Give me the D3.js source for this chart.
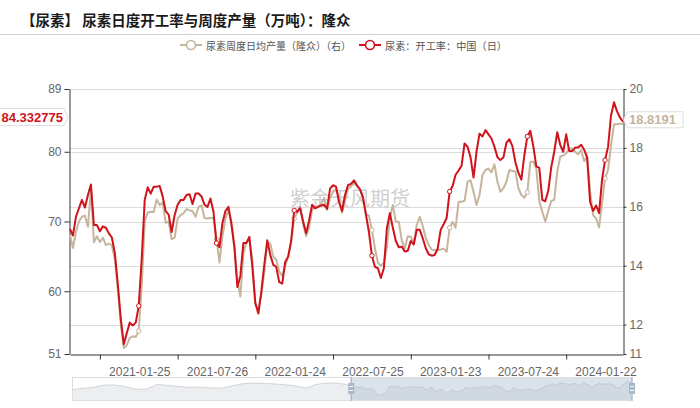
<!DOCTYPE html>
<html lang="zh">
<head>
<meta charset="UTF-8">
<title>尿素日度开工率与周度产量</title>
<script src="https://cdnjs.cloudflare.com/ajax/libs/d3/7.8.5/d3.min.js"></script>
<style>
  body { margin: 0; background: #fff; }
  svg { display: block; font-family: "Noto Sans CJK SC", "Liberation Sans", sans-serif; }
</style>
</head>
<body>
<div id="wrapper"></div>
<script>
// ---- data ----
const titleText = "【尿素】 尿素日度开工率与周度产量（万吨）：隆众"
const seriesNames = ["尿素周度日均产量（隆众）（右）", "尿素：开工率：中国（日）"]
const watermarkText = "紫金天风期货"

// weekly categories, first one and count
const firstWeek = "2020-08-17"
const weekCount = 186

// 开工率 (left axis, %)
const rateValues = [
  68.9, 68.0, 70.7, 71.9, 73.1, 72.0, 73.8, 75.3, 69.5, 69.5,
  68.6, 69.3, 69.1, 68.3, 67.7, 65.5, 61.0, 56.0, 52.4, 54.0,
  55.5, 55.1, 55.5, 57.9, 64.7, 73.1, 74.9, 74.0, 75.0, 75.0,
  75.1, 73.6, 71.5, 71.0, 68.5, 70.9, 72.4, 73.1, 73.1, 73.8,
  73.9, 72.5, 74.0, 74.0, 73.6, 72.4, 72.1, 73.3, 71.4, 66.9,
  66.3, 69.8, 71.5, 72.1, 69.6, 66.3, 60.6, 62.2, 66.9, 66.9,
  67.8, 63.5, 58.3, 56.8, 59.9, 63.8, 67.3, 65.2, 63.8, 63.5,
  61.3, 61.1, 64.2, 65.0, 67.3, 71.6, 71.4, 71.9, 70.0, 68.3,
  70.2, 72.4, 71.9, 72.1, 72.3, 72.4, 71.8, 74.7, 75.2, 75.0,
  72.8, 71.5, 73.8, 75.2, 75.4, 75.9, 75.2, 74.6, 73.5, 71.0,
  68.5, 65.1, 63.5, 63.3, 61.9, 63.3, 69.0, 71.2, 69.1, 67.2,
  66.3, 66.4, 65.7, 65.8, 67.2, 66.7, 68.8, 68.8, 67.6, 66.2,
  65.3, 65.1, 65.2, 66.1, 68.8, 69.6, 70.5, 74.3, 75.1, 76.7,
  77.3, 78.0, 81.2, 80.7, 79.2, 76.3, 80.0, 82.6, 82.2, 83.1,
  82.5, 81.9, 80.7, 79.2, 78.8, 79.2, 81.3, 81.8, 80.8, 78.5,
  77.0, 76.0, 79.5, 82.2, 83.0, 80.8, 77.9, 77.7, 73.1, 72.9,
  74.4, 77.8, 80.0, 82.8, 81.0, 80.0, 82.5, 80.1, 80.1, 80.6,
  80.6, 81.0, 80.3, 79.2, 72.8, 71.5, 72.3, 71.2, 76.0, 78.8,
  80.7, 85.2, 87.1, 85.8, 84.9, 84.332775
]

// 周度日均产量 (right axis, 万吨)
const outputValues = [
  15.04, 14.6, 15.15, 15.5, 15.66, 15.7, 15.32, 16.6, 14.8, 15.0,
  14.8, 14.95, 14.7, 14.75, 14.7, 14.2, 13.2, 12.0, 11.2, 11.3,
  11.55, 11.6, 11.58, 11.78, 13.3, 15.5, 15.8, 15.83, 15.82, 16.25,
  16.05, 16.15, 15.45, 15.5, 14.9, 14.95, 15.6, 15.72, 15.78, 15.92,
  15.88, 15.85, 15.66, 16.0, 16.05, 15.62, 15.6, 15.62, 15.62, 14.9,
  14.1, 15.0, 15.6, 15.9, 15.5, 14.7, 13.5, 12.95, 14.4, 14.8,
  14.9, 14.2, 12.7, 12.5, 13.0, 13.8, 14.8, 14.75, 14.3, 14.2,
  13.8, 13.65, 14.0, 14.3, 14.8, 15.6, 15.8, 16.0, 15.4, 15.0,
  15.3, 15.9, 16.0, 16.0, 16.1, 16.3, 15.9, 16.3, 16.5, 16.6,
  16.3, 15.8, 16.2, 16.6, 16.7, 16.8, 16.7, 16.6, 16.3, 15.75,
  15.7, 15.21, 14.6, 14.1, 14.0, 14.1, 14.6, 15.6, 16.06, 15.5,
  15.49, 14.85, 14.6, 15.0, 14.98, 14.76, 15.38, 15.66, 15.35, 14.95,
  14.7, 14.55, 14.52, 14.53, 14.55, 14.58, 14.47, 15.29, 15.49, 15.29,
  16.17, 16.17, 16.2, 16.85, 16.9, 16.5, 16.06, 16.4, 17.08, 17.25,
  17.3, 17.17, 17.44, 16.85, 16.51, 16.63, 16.85, 17.25, 17.21, 17.21,
  16.63, 16.4, 16.31, 16.49, 17.53, 17.53, 17.3, 16.2, 15.83, 15.5,
  15.86, 16.2, 16.23, 17.19, 17.7, 17.74, 17.81, 17.98, 17.98, 17.87,
  17.78, 17.93, 17.55, 17.7, 16.5, 15.72, 15.6, 15.3, 16.12, 16.97,
  17.25, 18.1, 18.8, 18.8, 18.82, 18.8191
]

// zoom slider shadow before the visible window (one value every 7 weeks)
const shadowStart = "2017-02-06"
const shadowEarly = [
  66.8, 70.4, 72.5, 78.0, 78.5, 74.5, 68.0, 68.5, 79.5, 77.5,
  75.0, 72.5, 73.5, 71.5, 70.5, 76.0, 81.0, 83.0, 82.0, 81.0,
  79.0, 76.5, 71.0, 80.0, 83.0, 83.0, 78.5
]

const xLabels = ["2021-01-25", "2021-07-26", "2022-01-24", "2022-07-25", "2023-01-23", "2023-07-24", "2024-01-22"]
const leftTicks = [51, 60, 70, 80, 89]
const rightTicks = [11, 12, 14, 16, 18, 20]

// ---- dimensions ----
const width = 700
const height = 408
const plot = { left: 70, right: 623, top: 89, bottom: 354 }
const slider = { left: 72, right: 632, top: 377, bottom: 400 }

const redColor = "#d0121b"
const tanColor = "#c6b59d"
const gridColor = "#dcdcdc"
const axisColor = "#333"

const fmt = d3.utcFormat("%Y-%m-%d")
const parse = d3.utcParse("%Y-%m-%d")
const categories = d3.range(weekCount).map(i => fmt(d3.utcDay.offset(parse(firstWeek), 7 * i)))

const svg = d3.select("#wrapper").append("svg")
  .attr("width", width)
  .attr("height", height)

// ---- scales ----
const xScale = d3.scalePoint().domain(categories).range([plot.left, plot.right])
const yLeft = d3.scaleLinear().domain([51, 89]).range([plot.bottom, plot.top])
const yRight = d3.scaleLinear().domain([11, 20]).range([plot.bottom, plot.top])

// ---- title ----
svg.append("text")
  .attr("x", 21).attr("y", 19)
  .attr("dominant-baseline", "central")
  .attr("font-size", 14.5).attr("font-weight", "bold")
  .attr("fill", "#1a1a1a")
  .text(titleText)
svg.append("line")
  .attr("x1", 0).attr("x2", width).attr("y1", 34.5).attr("y2", 34.5)
  .attr("stroke", "#cfcfcf")

// ---- legend ----
const legendItems = [
  { name: seriesNames[0], color: tanColor, x: 180, len: 145 },
  { name: seriesNames[1], color: redColor, x: 359, len: 122 }
]
const legend = svg.append("g")
legendItems.forEach(function(d) {
  legend.append("line")
    .attr("x1", d.x).attr("x2", d.x + 22).attr("y1", 45).attr("y2", 45)
    .attr("stroke", d.color).attr("stroke-width", 2)
  legend.append("circle")
    .attr("cx", d.x + 11).attr("cy", 45).attr("r", 4.5)
    .attr("fill", "#fff").attr("stroke", d.color).attr("stroke-width", 1.6)
  legend.append("text")
    .attr("x", d.x + 26).attr("y", 45)
    .attr("dominant-baseline", "central")
    .attr("font-size", 10.5).attr("fill", "#555")
    .attr("textLength", d.len).attr("lengthAdjust", "spacingAndGlyphs")
    .text(d.name)
})

// ---- grid ----
const grid = svg.append("g")
grid.selectAll(".gl").data(leftTicks.slice(1)).join("line")
  .attr("x1", plot.left).attr("x2", plot.right)
  .attr("y1", d => Math.round(yLeft(d)) + 0.5).attr("y2", d => Math.round(yLeft(d)) + 0.5)
  .attr("stroke", gridColor)
grid.selectAll(".gr").data(rightTicks.slice(1)).join("line")
  .attr("x1", plot.left).attr("x2", plot.right)
  .attr("y1", d => Math.round(yRight(d)) + 0.5).attr("y2", d => Math.round(yRight(d)) + 0.5)
  .attr("stroke", gridColor)

// ---- watermark ----
svg.append("text")
  .attr("x", 290).attr("y", 197)
  .attr("dominant-baseline", "central")
  .attr("font-size", 20).attr("fill", "#cfcfcf")
  .text(watermarkText)

// ---- axes ----
function styleAxis(g) {
  g.select(".domain").attr("stroke", axisColor)
  g.selectAll(".tick line").attr("stroke", axisColor)
  g.selectAll(".tick text").attr("fill", "#666").attr("font-size", 12)
    .attr("font-family", "Liberation Sans, sans-serif")
}

svg.append("g")
  .attr("transform", `translate(${plot.left - 0.5},0)`)
  .call(d3.axisLeft(yLeft).tickValues(leftTicks).tickSize(5).tickSizeOuter(0).tickPadding(3))
  .call(styleAxis)

svg.append("g")
  .attr("transform", `translate(${plot.right + 0.5},0)`)
  .call(d3.axisRight(yRight).tickValues(rightTicks).tickSize(3).tickSizeOuter(0).tickPadding(3))
  .call(styleAxis)

// ticks sit 13 weeks before each labelled week
const tickCats = xLabels.map(l => categories[categories.indexOf(l) - 13])
svg.append("g")
  .attr("transform", `translate(0,${plot.bottom + 0.5})`)
  .call(d3.axisBottom(xScale).tickValues(tickCats).tickFormat("").tickSize(5).tickSizeOuter(0))
  .call(styleAxis)
svg.append("g").selectAll("text").data(xLabels).join("text")
  .attr("x", d => xScale(d) + 1).attr("y", 372)
  .attr("text-anchor", "middle").attr("dominant-baseline", "central")
  .attr("font-size", 12).attr("fill", "#666")
  .attr("font-family", "Liberation Sans, sans-serif")
  .text(d => d)

// ---- series ----
const tanLine = d3.line().x((d, i) => xScale(categories[i])).y(d => yRight(d))
const redLine = d3.line().x((d, i) => xScale(categories[i])).y(d => yLeft(d))
const markIdx = xLabels.map(l => categories.indexOf(l))

svg.append("path")
  .attr("d", tanLine(outputValues))
  .attr("fill", "none").attr("stroke", tanColor).attr("stroke-width", 2)
  .attr("stroke-linejoin", "round")
svg.append("g").selectAll("circle").data(markIdx).join("circle")
  .attr("cx", i => xScale(categories[i])).attr("cy", i => yRight(outputValues[i]))
  .attr("r", 2.2).attr("fill", "#fff").attr("stroke", tanColor).attr("stroke-width", 1)

svg.append("path")
  .attr("d", redLine(rateValues))
  .attr("fill", "none").attr("stroke", redColor).attr("stroke-width", 2)
  .attr("stroke-linejoin", "round")
svg.append("g").selectAll("circle").data(markIdx).join("circle")
  .attr("cx", i => xScale(categories[i])).attr("cy", i => yLeft(rateValues[i]))
  .attr("r", 2.2).attr("fill", "#fff").attr("stroke", redColor).attr("stroke-width", 1)

// ---- end value labels ----
const lastRate = rateValues[rateValues.length - 1]
const lastOutput = outputValues[outputValues.length - 1]

const ly = yLeft(lastRate) - 4.5
svg.append("path")
  .attr("d", `M-2,${ly - 8.5}H64L68,${ly}L64,${ly + 8.5}H-2Z`)
  .attr("fill", "#fff").attr("stroke", "#ddd")
svg.append("text")
  .attr("x", 63).attr("y", ly)
  .attr("text-anchor", "end").attr("dominant-baseline", "central")
  .attr("font-size", 13).attr("font-weight", "bold").attr("fill", redColor)
  .attr("font-family", "Liberation Sans, sans-serif")
  .text(lastRate)

const ry = yRight(lastOutput) - 4
svg.append("path")
  .attr("d", `M627.5,${ry - 8}H683V${ry + 8}H627.5L623.5,${ry}Z`)
  .attr("fill", "#fff").attr("stroke", "#ddd")
svg.append("text")
  .attr("x", 629).attr("y", ry)
  .attr("dominant-baseline", "central")
  .attr("font-size", 13).attr("font-weight", "bold").attr("fill", tanColor)
  .attr("font-family", "Liberation Sans, sans-serif")
  .text(lastOutput)

// ---- data zoom slider ----
const earlyDates = shadowEarly.map((d, k) => d3.utcDay.offset(parse(shadowStart), 49 * k))
const shadowPoints = shadowEarly.map((v, k) => ({ date: earlyDates[k], value: v }))
  .concat(rateValues.map((v, i) => ({ date: parse(categories[i]), value: v })))

const sx = d3.scaleUtc()
  .domain([parse(shadowStart), parse(categories[categories.length - 1])])
  .range([slider.left, slider.right])
const ext = d3.extent(shadowPoints, d => d.value)
const pad = (ext[1] - ext[0]) * 0.3
const sy = d3.scaleLinear().domain([ext[0] - pad, ext[1] + pad]).range([slider.bottom, slider.top])

const sliderG = svg.append("g")
sliderG.append("path")
  .attr("d", d3.area().x(d => sx(d.date)).y0(slider.bottom).y1(d => sy(d.value))(shadowPoints))
  .attr("fill", "rgba(47,69,84,0.09)")
sliderG.append("path")
  .attr("d", d3.line().x(d => sx(d.date)).y(d => sy(d.value))(shadowPoints))
  .attr("fill", "none").attr("stroke", "rgba(47,69,84,0.3)").attr("stroke-width", 0.6)

const selStart = sx(parse(categories[0]))
const selEnd = sx(parse(categories[categories.length - 1]))
sliderG.append("rect")
  .attr("x", selStart).attr("y", slider.top)
  .attr("width", selEnd - selStart).attr("height", slider.bottom - slider.top)
  .attr("fill", "rgba(167,183,204,0.4)")
sliderG.append("rect")
  .attr("x", slider.left + 0.5).attr("y", slider.top + 0.5)
  .attr("width", slider.right - slider.left - 1).attr("height", slider.bottom - slider.top)
  .attr("fill", "none").attr("stroke", "#ddd")

;[selStart, selEnd].forEach(function(hx) {
  const mid = (slider.top + slider.bottom) / 2
  sliderG.append("line")
    .attr("x1", hx).attr("x2", hx).attr("y1", slider.top).attr("y2", slider.bottom + 1)
    .attr("stroke", "#a7b7cc").attr("stroke-width", 1.3)
  sliderG.append("rect")
    .attr("x", hx - 3).attr("y", mid - 5.5).attr("width", 6).attr("height", 11)
    .attr("fill", "#a7b7cc")
  sliderG.append("rect")
    .attr("x", hx - 1.8).attr("y", mid - 2.5).attr("width", 3.6).attr("height", 1)
    .attr("fill", "#fff")
  sliderG.append("rect")
    .attr("x", hx - 1.8).attr("y", mid + 1.5).attr("width", 3.6).attr("height", 1)
    .attr("fill", "#fff")
})
</script>
</body>
</html>
